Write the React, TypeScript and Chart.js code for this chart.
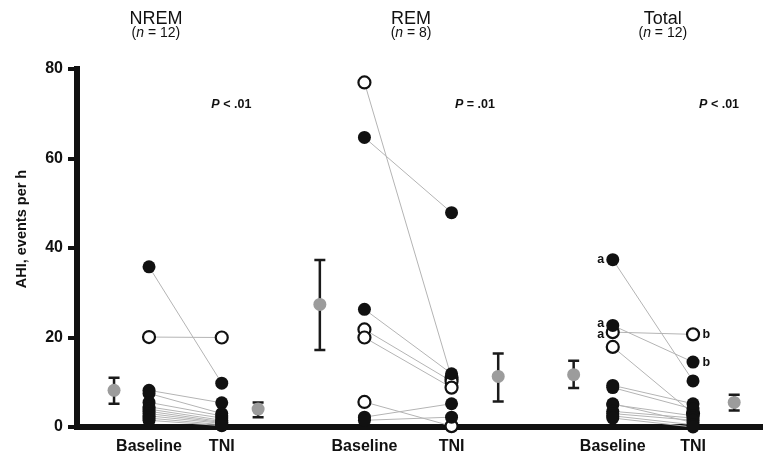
import React, { useEffect, useRef } from "react";
import { Chart, registerables } from "chart.js";
Chart.register(...registerables);

// ---------- data ----------
const PANELS = ["NREM", "REM", "Total"];
const PANEL_N = [12, 8, 12];
const P_OPERATORS = ["<", "=", "<"];
const P_VALUES = [".01", ".01", ".01"];
const CONDITIONS = ["Baseline", "TNI"];
const Y_TITLE = "AHI, events per h";

const NREM_BASELINE = [35.8, 20.1, 8.2, 7.5, 5.5, 4.5, 4.0, 3.5, 3.0, 2.5, 2.0, 1.5];
const NREM_TNI = [9.8, 20.0, 5.4, 3.0, 2.5, 2.0, 1.5, 1.2, 1.0, 0.8, 0.5, 0.3];
const NREM_OPEN = [false, true, false, false, false, false, false, false, false, false, false, false];
const NREM_MEAN = [8.2, 4.0];
const NREM_LOW = [5.2, 2.2];
const NREM_HIGH = [11.0, 5.5];

const REM_BASELINE = [77.0, 64.7, 26.3, 21.8, 20.0, 5.6, 2.2, 1.5];
const REM_TNI = [11.0, 47.9, 11.9, 10.2, 8.8, 0.2, 5.2, 2.2];
const REM_OPEN = [true, false, false, true, true, true, false, false];
const REM_MEAN = [27.4, 11.3];
const REM_LOW = [17.2, 5.7];
const REM_HIGH = [37.3, 16.4];

const TOTAL_BASELINE = [37.4, 22.7, 21.2, 17.9, 9.3, 8.8, 5.2, 5.0, 3.5, 3.0, 2.5, 2.0];
const TOTAL_TNI = [10.3, 14.5, 20.7, 3.0, 5.2, 4.0, 1.0, 2.5, 2.0, 1.5, 0.5, 0.0];
const TOTAL_OPEN = [false, false, true, true, false, false, false, false, false, false, false, false];
const TOTAL_BASELINE_NOTE = ["a", "a", "a", "", "", "", "", "", "", "", "", ""];
const TOTAL_TNI_NOTE = ["", "b", "b", "", "", "", "", "", "", "", "", ""];
const TOTAL_MEAN = [11.7, 5.5];
const TOTAL_LOW = [8.7, 3.7];
const TOTAL_HIGH = [14.8, 7.2];

// ---------- layout (x scale runs 0..100 across the plot) ----------
const LAYOUT = [
  { base: 10.5, tni: 21.1, meanBase: 5.4, meanTni: 26.4, title: 11.5, p: 22.5 },
  { base: 41.9, tni: 54.6, meanBase: 35.4, meanTni: 61.4, title: 48.7, p: 58.0 },
  { base: 78.1, tni: 89.8, meanBase: 72.4, meanTni: 95.8, title: 85.4, p: 93.6 },
];

const GROUPS = [
  { baseline: NREM_BASELINE, tni: NREM_TNI, open: NREM_OPEN, mean: NREM_MEAN, low: NREM_LOW, high: NREM_HIGH, bNote: null as string[] | null, tNote: null as string[] | null },
  { baseline: REM_BASELINE, tni: REM_TNI, open: REM_OPEN, mean: REM_MEAN, low: REM_LOW, high: REM_HIGH, bNote: null, tNote: null },
  { baseline: TOTAL_BASELINE, tni: TOTAL_TNI, open: TOTAL_OPEN, mean: TOTAL_MEAN, low: TOTAL_LOW, high: TOTAL_HIGH, bNote: TOTAL_BASELINE_NOTE, tNote: TOTAL_TNI_NOTE },
];

const FONT = "'Liberation Sans', Arial, Helvetica, sans-serif";
const LINE_GREY = "#b4b4b4";
const MEAN_GREY = "#9c9c9c";
const R = 6.5;

function buildDatasets() {
  const ds: any[] = [];
  GROUPS.forEach((g, gi) => {
    const L = LAYOUT[gi];
    g.baseline.forEach((b, i) => {
      ds.push({
        type: "scatter",
        data: [{ x: L.base, y: b }, { x: L.tni, y: g.tni[i] }],
        showLine: true,
        borderColor: LINE_GREY,
        borderWidth: 1,
        pointRadius: 0,
        order: 3,
        clip: false,
      });
    });
    const openPts: any[] = [];
    const filledPts: any[] = [];
    g.baseline.forEach((b, i) => {
      const tgt = g.open[i] ? openPts : filledPts;
      tgt.push({ x: L.base, y: b });
      tgt.push({ x: L.tni, y: g.tni[i] });
    });
    ds.push({
      type: "scatter",
      data: openPts,
      pointRadius: R - 0.5,
      pointBackgroundColor: "#ffffff",
      pointBorderColor: "#111",
      pointBorderWidth: 2.2,
      order: 2,
      clip: false,
    });
    ds.push({
      type: "scatter",
      data: filledPts,
      pointRadius: R,
      pointBackgroundColor: "#111",
      pointBorderColor: "#111",
      pointBorderWidth: 0,
      order: 1,
      clip: false,
    });
    ds.push({
      type: "scatter",
      data: [{ x: L.meanBase, y: g.mean[0] }, { x: L.meanTni, y: g.mean[1] }],
      pointRadius: R,
      pointBackgroundColor: MEAN_GREY,
      pointBorderWidth: 0,
      order: 0,
      clip: false,
    });
  });
  return ds;
}

const annotations = {
  id: "annotations",
  beforeDatasetsDraw(chart: any) {
    const { ctx, scales } = chart;
    const xs = scales.x, ys = scales.y;
    ctx.save();
    ctx.strokeStyle = "#1a1a1a";
    ctx.lineWidth = 2.5;
    GROUPS.forEach((g, gi) => {
      const L = LAYOUT[gi];
      [L.meanBase, L.meanTni].forEach((xv, k) => {
        const x = xs.getPixelForValue(xv);
        const y1 = ys.getPixelForValue(g.low[k]);
        const y2 = ys.getPixelForValue(g.high[k]);
        ctx.beginPath();
        ctx.moveTo(x, y1);
        ctx.lineTo(x, y2);
        ctx.moveTo(x - 5.5, y1);
        ctx.lineTo(x + 5.5, y1);
        ctx.moveTo(x - 5.5, y2);
        ctx.lineTo(x + 5.5, y2);
        ctx.stroke();
      });
    });
    ctx.restore();
  },
  afterDraw(chart: any) {
    const { ctx, scales } = chart;
    const xs = scales.x, ys = scales.y;
    ctx.save();
    ctx.fillStyle = "#111";
    ctx.textBaseline = "alphabetic";
    // y-axis title
    ctx.save();
    ctx.translate(22, 229);
    ctx.rotate(-Math.PI / 2);
    ctx.font = `bold 14.5px ${FONT}`;
    ctx.textAlign = "center";
    ctx.textBaseline = "middle";
    ctx.fillText(Y_TITLE, 0, 0);
    ctx.restore();

    PANELS.forEach((name, gi) => {
      const L = LAYOUT[gi];
      const cx = xs.getPixelForValue(L.title);
      ctx.font = `18px ${FONT}`;
      ctx.textAlign = "center";
      ctx.fillText(name, cx, 24);
      const parts = [
        { t: "(", f: `14px ${FONT}` },
        { t: "n", f: `italic 14px ${FONT}` },
        { t: ` = ${PANEL_N[gi]})`, f: `14px ${FONT}` },
      ];
      let w = 0;
      parts.forEach((p) => { ctx.font = p.f; w += ctx.measureText(p.t).width; });
      let x = cx - w / 2;
      ctx.textAlign = "left";
      parts.forEach((p) => { ctx.font = p.f; ctx.fillText(p.t, x, 37); x += ctx.measureText(p.t).width; });
      const px = xs.getPixelForValue(L.p);
      const pParts = [
        { t: "P", f: `italic bold 12.5px ${FONT}` },
        { t: ` ${P_OPERATORS[gi]} ${P_VALUES[gi]}`, f: `bold 12.5px ${FONT}` },
      ];
      w = 0;
      pParts.forEach((p) => { ctx.font = p.f; w += ctx.measureText(p.t).width; });
      x = px - w / 2;
      pParts.forEach((p) => { ctx.font = p.f; ctx.fillText(p.t, x, 108); x += ctx.measureText(p.t).width; });
    });
    ctx.font = `bold 12.5px ${FONT}`;
    GROUPS.forEach((g, gi) => {
      const L = LAYOUT[gi];
      if (g.bNote) {
        const items = g.baseline
          .map((v, i) => ({ y: ys.getPixelForValue(v), t: g.bNote![i] }))
          .filter((d) => d.t)
          .sort((a, b) => a.y - b.y);
        for (let k = 1; k < items.length; k++) {
          if (items[k].y - items[k - 1].y < 11) {
            const mid = (items[k].y + items[k - 1].y) / 2;
            items[k - 1].y = mid - 5.5;
            items[k].y = mid + 5.5;
          }
        }
        ctx.textAlign = "right";
        ctx.textBaseline = "middle";
        const bx = xs.getPixelForValue(L.base) - R - 2;
        items.forEach((d) => ctx.fillText(d.t, bx, d.y));
      }
      if (g.tNote) {
        ctx.textAlign = "left";
        ctx.textBaseline = "middle";
        const tx = xs.getPixelForValue(L.tni) + R + 3;
        g.tni.forEach((v, i) => {
          if (g.tNote![i]) ctx.fillText(g.tNote![i], tx, ys.getPixelForValue(v));
        });
      }
    });
    ctx.restore();
  },
};

export default function App() {
  const ref = useRef<HTMLCanvasElement | null>(null);
  useEffect(() => {
    if (!ref.current) return;
    const chart = new Chart(ref.current, {
      type: "scatter",
      data: { datasets: buildDatasets() },
      options: {
        animation: false,
        responsive: false,
        events: [],
        layout: { autoPadding: false, padding: { top: 69, left: 0, right: 0, bottom: 0 } },
        plugins: { legend: { display: false }, tooltip: { enabled: false } },
        scales: {
          x: {
            type: "linear",
            min: 0,
            max: 100,
            afterFit: (s: any) => { s.height = 35; },
            afterBuildTicks: (s: any) => {
              s.ticks = LAYOUT.flatMap((L) => [{ value: L.base }, { value: L.tni }]);
            },
            grid: { drawOnChartArea: false, drawTicks: false },
            border: { display: true, width: 6, color: "#111" },
            ticks: {
              autoSkip: false,
              maxRotation: 0,
              padding: 10,
              color: "#111",
              font: { family: FONT, size: 16, weight: "bold" },
              callback: (_v: any, i: number) => CONDITIONS[i % 2],
            },
          },
          y: {
            min: 0,
            max: 80,
            afterFit: (s: any) => { s.width = 77; },
            grid: { drawOnChartArea: false, drawTicks: true, tickLength: 9, lineWidth: 4, color: "#111" },
            border: { display: true, width: 6, color: "#111" },
            ticks: {
              stepSize: 20,
              padding: 5,
              color: "#111",
              font: { family: FONT, size: 16, weight: "bold" },
            },
          },
        },
      },
      plugins: [annotations],
    } as any);
    return () => chart.destroy();
  }, []);
  return (
    <div style={{ position: "absolute", left: 0, top: 0, width: 763, height: 462, background: "#fff" }}>
      <canvas ref={ref} width={763} height={462} style={{ display: "block" }} />
    </div>
  );
}
